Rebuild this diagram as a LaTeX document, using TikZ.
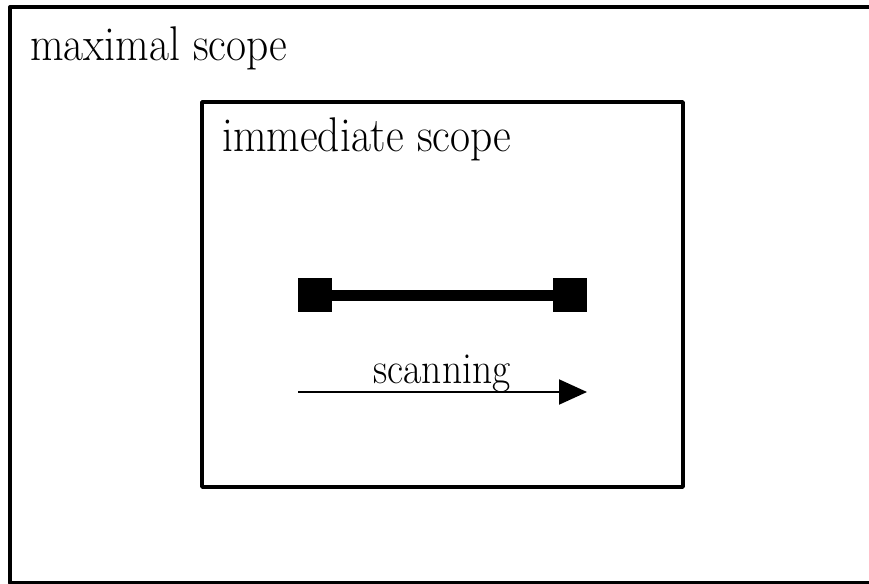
\documentclass[tikz,border=0pt]{standalone}
\usetikzlibrary{arrows.meta}
\newcommand{\tallish}[1]{\scalebox{1}[1.12]{#1}}
\begin{document}
\begin{tikzpicture}[x=1pt,y=-1pt,
  scopebox/.style={draw,line width=3.5pt,line join=round},
  endsq/.style={fill=black,minimum size=34pt,inner sep=0pt,outer sep=0pt},
  lbl/.style={anchor=base west,inner sep=0pt,font=\fontsize{43.5}{52}\selectfont},
  scanlbl/.style={anchor=base,inner sep=0pt,font=\fontsize{39.5}{47}\selectfont}]
\useasboundingbox (0,0) rectangle (869,583);
\clip (0,0) rectangle (869,583);
\draw[scopebox,line width=4pt] (10,7) rectangle (900,583);
\node[lbl] (maxl) at (30,61) {\tallish{maximal scope}};
\draw[scopebox] (202,102) rectangle (683,487);
\node[lbl] (imml) at (222,151) {\tallish{immediate scope}};
\node[endsq] (sqa) at (315,295) {};
\node[endsq] (sqb) at (570,295) {};
\draw[line width=11pt] (sqa.east) -- (sqb.west);
\coordinate (ars) at (298,392);
\coordinate (are) at (587,392);
\draw[line width=2pt,-{Triangle[length=28pt,width=25pt]}] (ars) -- (are);
\node[scanlbl] (scan) at (442,383) {\tallish{scanning}};
\end{tikzpicture}
\end{document}
